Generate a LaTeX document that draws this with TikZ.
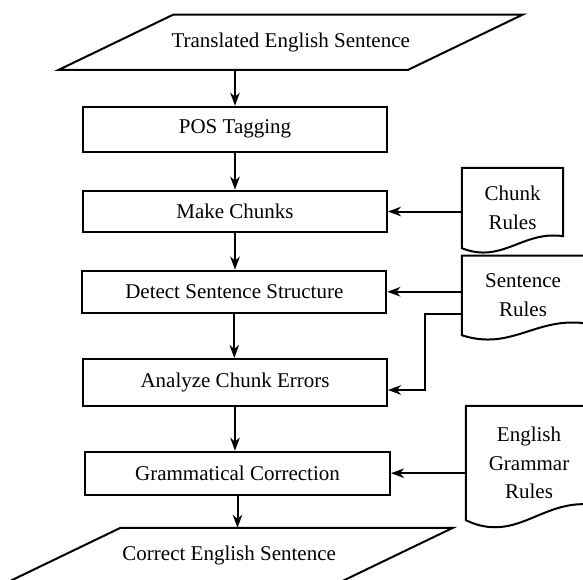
\documentclass[tikz,border=0pt]{standalone}
\usepackage{fontspec}
\setmainfont{Liberation Serif}
\usetikzlibrary{arrows.meta,calc}
\tikzset{
  every node/.style={font=\fontsize{21}{28.5}\selectfont, inner sep=0pt},
  procbox/.style={draw, line width=2pt, minimum width=304pt},
  iobox/.style={minimum width=#1, minimum height=55pt},
  docbox/.style={align=center},
  line/.style={line width=2pt, line join=miter},
  arr/.style={line, -{Stealth[length=13pt,width=9.5pt,inset=4pt]}},
}
\newcommand\ioshape[2]{%
  \draw[line] ([xshift=#2]#1.north west) -- ([xshift=#2]#1.north east) -- ([xshift=-#2]#1.south east) -- ([xshift=-#2]#1.south west) -- cycle;}
\newcommand\docshape[4]{%
  \draw[line] (#1.north west) -- (#1.north east) -- ([yshift=#2pt]#1.south east)
    .. controls ($(#1.south west)!0.6!(#1.south east)+(0,{-#2-#4})$) and ($(#1.south west)!0.4!(#1.south east)+(0,#3)$) .. (#1.south west) -- cycle;}
\begin{document}
\begin{tikzpicture}[x=1pt,y=-1pt]
\useasboundingbox (0,0) rectangle (583,579);
\clip (0,0) rectangle (583,579);

% input / output
\node[iobox=349pt] (trans) at (290.75,42.2) {Translated English Sentence};
\ioshape{trans}{57.5pt}
\node[iobox=332pt] (correct) at (229.2,555.5) {Correct English Sentence};
\ioshape{correct}{57.5pt}

% process boxes
\node[procbox, minimum height=45pt] (pos) at (235,129.2) {POS Tagging};
\node[procbox, minimum height=41.6pt] (make) at (235,211.5) {Make Chunks};
\node[procbox, minimum height=42.3pt] (detect) at (234.3,291.8) {Detect Sentence Structure};
\node[procbox, minimum height=47pt] (analyze) at (235,382.5) {Analyze Chunk Errors};
\node[procbox, minimum height=43pt, minimum width=305pt] (gram) at (237.5,473.2) {Grammatical Correction};

% documents
\node[docbox, minimum width=101pt, minimum height=80pt] (chunk) at (512.5,208) {Chunk\\Rules};
\docshape{chunk}{12}{16}{6}
\node[docbox, minimum width=122pt, minimum height=79.3pt] (sent) at (523,295.35) {Sentence\\Rules};
\docshape{sent}{12}{16}{6}
\node[docbox, minimum width=126pt, minimum height=114pt] (eg) at (529,463) {English\\Grammar\\Rules};
\docshape{eg}{15.5}{24}{6}

% connectors
\draw[arr] (trans.south -| pos.north) -- (pos.north);
\draw[arr] (pos.south) -- (make.north);
\draw[arr] (make.south) -- (make.south |- detect.north);
\draw[arr] (detect.south) -- (detect.south |- analyze.north);
\draw[arr] (analyze.south) -- (analyze.south |- gram.north);
\draw[arr] (gram.south) -- (gram.south |- correct.north);
\draw[arr] (chunk.west |- make) -- (make.east);
\draw[arr] (sent.west |- detect) -- (detect.east);
\coordinate (bend) at (425,314.3);
\draw[arr] (sent.west |- bend) -- (bend) |- ([yshift=-7.5pt]analyze.east);
\draw[arr] (eg.west |- gram) -- (gram.east);
\end{tikzpicture}
\end{document}
